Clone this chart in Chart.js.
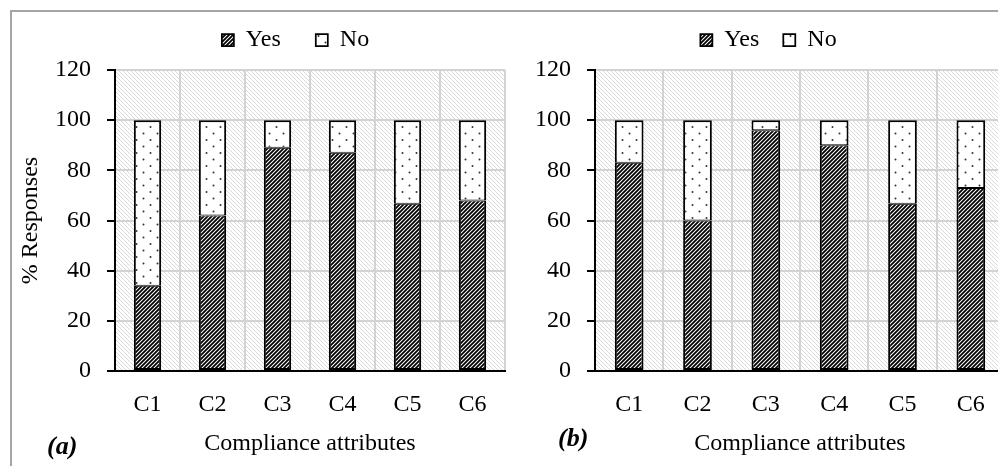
<!DOCTYPE html>
<html><head><meta charset="utf-8">
<script src="https://cdn.jsdelivr.net/npm/chart.js@4.4.1/dist/chart.umd.min.js"></script>
<style>
html,body{margin:0;padding:0;background:#fff;overflow:hidden;width:998px;height:466px;position:relative}
#frame{position:absolute;left:10px;top:10px;width:1000px;height:470px;border-top:2px solid #a6a6a6;border-left:2px solid #a6a6a6;box-sizing:border-box;z-index:5;pointer-events:none}
canvas{position:absolute;top:0}
#ca{left:0}
#cb{left:500px}
.tag{position:absolute;font:italic bold 26px "Liberation Serif","Times New Roman",serif;line-height:26px;color:#000;z-index:6}
</style>
</head><body>
<canvas id="ca" width="510" height="466"></canvas>
<canvas id="cb" width="506" height="466"></canvas>
<div id="frame"></div>
<div class="tag" id="ta" style="left:47px;top:433px"></div>
<div class="tag" id="tb" style="left:558px;top:425px"></div>
<script>
// ---- data ----
const categories = ['C1', 'C2', 'C3', 'C4', 'C5', 'C6'];
const seriesNames = ['Yes', 'No'];
const yesA = [34, 62, 89, 87, 66.7, 68];
const noA  = [66, 38, 11, 13, 33.3, 32];
const yesB = [83, 60, 96, 90, 66.7, 73];
const noB  = [17, 40, 4, 10, 33.3, 27];
const yTicks = [0, 20, 40, 60, 80, 100, 120];
const xTitle = 'Compliance attributes';
const yTitle = '% Responses';
const panelTags = ['(a)', '(b)'];

document.getElementById('ta').textContent = panelTags[0];
document.getElementById('tb').textContent = panelTags[1];

Chart.defaults.font.family = '"Liberation Serif", "Times New Roman", serif';
Chart.defaults.color = '#000';

// ---- patterns ----
function makePattern(w, h, draw) {
  const c = document.createElement('canvas');
  c.width = w; c.height = h;
  const g = c.getContext('2d');
  draw(g);
  return g.createPattern(c, 'repeat');
}
const bgPat = makePattern(4, 4, g => {
  g.fillStyle = '#fff'; g.fillRect(0, 0, 4, 4);
  g.strokeStyle = '#dadada'; g.lineWidth = 1;
  g.beginPath();
  g.moveTo(-1, -1); g.lineTo(5, 5);
  g.moveTo(-1, 3); g.lineTo(1, 5);
  g.moveTo(3, -1); g.lineTo(5, 1);
  g.stroke();
});
const yesPat = makePattern(4, 4, g => {
  g.fillStyle = '#fff'; g.fillRect(0, 0, 4, 4);
  g.strokeStyle = '#000'; g.lineWidth = 1.8;
  g.beginPath();
  g.moveTo(-1, 5); g.lineTo(5, -1);
  g.moveTo(-1, 1); g.lineTo(1, -1);
  g.moveTo(3, 5); g.lineTo(5, 3);
  g.stroke();
});
const noPat = makePattern(14, 13, g => {
  g.fillStyle = '#fff'; g.fillRect(0, 0, 14, 13);
  g.fillStyle = '#333';
  g.beginPath(); g.arc(3.5, 3.5, 1, 0, Math.PI * 2); g.fill();
  g.beginPath(); g.arc(10.5, 10, 1, 0, Math.PI * 2); g.fill();
});

// ---- plugins ----
const plotBg = {
  id: 'plotBg',
  beforeDraw(chart) {
    const a = chart.chartArea, c = chart.ctx;
    c.save(); c.fillStyle = bgPat; c.fillRect(a.left, a.top, a.right - a.left, a.bottom - a.top); c.restore();
  }
};
const legendFix = {
  id: 'legendFix',
  afterInit(chart, args, opts) {
    const lg = chart.legend;
    const orig = lg.fit;
    lg.fit = function () { orig.call(this); this.height = opts.h; };
  },
  afterLayout(chart, args, opts) {
    const lg = chart.legend;
    lg.left += opts.dx; lg.right += opts.dx;
    lg.top += opts.dy; lg.bottom += opts.dy;
  }
};

function makeChart(id, yes, no, cfg) {
  return new Chart(document.getElementById(id), {
    type: 'bar',
    data: {
      labels: categories,
      datasets: [
        { label: seriesNames[0], data: yes, backgroundColor: yesPat, borderColor: '#000',
          borderWidth: { top: 1, left: 2, right: 2, bottom: 2 }, borderSkipped: false,
          barPercentage: 0.42, categoryPercentage: 1 },
        { label: seriesNames[1], data: no, backgroundColor: noPat, borderColor: '#000',
          borderWidth: { top: 2, left: 2, right: 2, bottom: 1 }, borderSkipped: false,
          barPercentage: 0.42, categoryPercentage: 1 }
      ]
    },
    options: {
      responsive: false,
      devicePixelRatio: 1,
      animation: false,
      layout: { padding: { left: 0, right: cfg.rp, top: 0, bottom: 0 } },
      plugins: {
        tooltip: { enabled: false },
        legend: {
          position: 'top',
          labels: { font: { size: 24 }, color: '#000', boxWidth: 12, boxHeight: 12, padding: cfg.P }
        },
        legendFix: { dx: cfg.dx, dy: cfg.dy, h: 70 }
      },
      scales: {
        x: {
          stacked: true,
          grid: { color: '#d3d3d3', lineWidth: 2, drawTicks: false, offset: true },
          border: { color: '#000', width: 2 },
          ticks: { color: '#000', font: { size: 24 }, padding: 19 },
          title: { display: true, text: xTitle, color: '#000', font: { size: 24 }, padding: { top: -8.2, bottom: 7.6 } }
        },
        y: {
          stacked: true,
          min: yTicks[0], max: yTicks[yTicks.length - 1],
          ticks: { stepSize: yTicks[1] - yTicks[0], color: '#000', font: { size: 24 }, padding: 16 },
          grid: { color: '#d3d3d3', lineWidth: 2, tickColor: '#000', tickLength: 8, tickWidth: 2 },
          border: { color: '#000', width: 2 },
          title: cfg.showY ? { display: true, text: yTitle, color: '#000', font: { size: 24 }, padding: { top: 16.6, bottom: 0 } } : { display: false },
          afterFit(s) { s.width = cfg.yw; }
        }
      }
    },
    plugins: [plotBg, legendFix]
  });
}

makeChart('ca', yesA, noA, { rp: 5, P: 35, dx: 43, dy: -7, yw: 115, showY: true });
makeChart('cb', yesB, noB, { rp: 1, P: 24, dx: 16, dy: 4, yw: 95, showY: false });
</script>
</body></html>
